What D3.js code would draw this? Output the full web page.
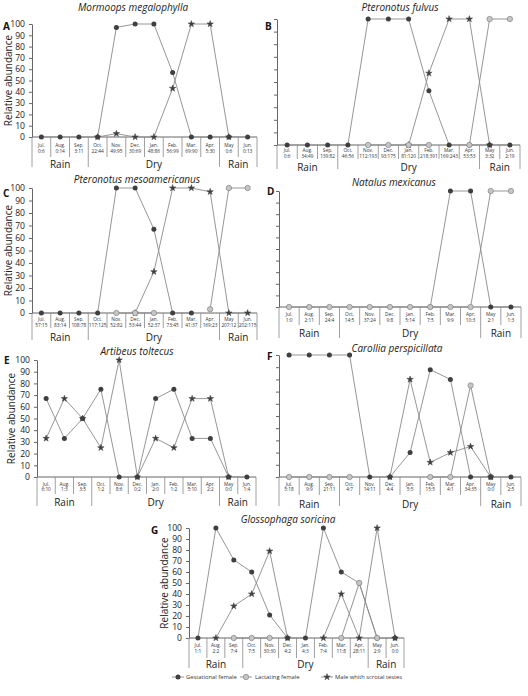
<!DOCTYPE html>
<html><head><meta charset="utf-8">
<script src="https://cdn.jsdelivr.net/npm/d3@7"></script>
<style>body{margin:0;background:#fff}</style>
</head><body><div id="chart"></div>
<script>
// months run jul -> jun, seasons span month indexes
var months=['Jul.','Aug.','Sep.','Oct.','Nov.','Dec.','Jan.','Feb.','Mar.','Apr.','May','Jun.'];
var seasonNames=['Rain','Dry','Rain'];
var seasonFrom=[0,3,10];
var seasonTo=[3,10,12];
var yTicks=[0,10,20,30,40,50,60,70,80,90,100];
var legendNames=['Gestational female','Lactating female','Male whith scrotal testes'];

// A
var titleA='Mormoops megalophylla';
var countsA=['0:6','0:14','3:11','22:44','49:95','30:69','48:86','56:99','69:90','5:30','0:6','0:13'];
var gestA=[0,0,0,0,97,100,100,57,0,0,0,0];
var lactA=[null,null,null,null,null,null,null,null,null,null,null,null];
var maleA=[null,null,null,0,3,0,0,43,100,100,0,null];
// B
var titleB='Pteronotus fulvus';
var countsB=['0:6','34:49','139:82','46:56','112:193','93:175','81:120','218:391','169:243','53:53','3:32','2:19'];
var gestB=[0,0,0,0,100,100,100,43,0,0,0,0];
var lactB=[null,null,null,null,0,0,0,0,null,0,100,100];
var maleB=[null,null,null,null,null,null,0,57,100,100,0,null];
// C
var titleC='Pteronotus mesoamericanus';
var countsC=['57:15','83:14','108:78','117:125','52:82','53:44','52:37','73:45','41:37','169:23','207:12','202:115'];
var gestC=[0,0,0,0,100,100,67,0,0,null,null,null];
var lactC=[null,null,null,null,0,0,0,null,null,3,100,100];
var maleC=[null,null,null,null,null,0,33,100,100,97,0,0];
// D
var titleD='Natalus mexicanus';
var countsD=['1:0','2:11','24:4','14:5','37:24','9:8','5:14','7:5','9:9','10:3','2:1','1:3'];
var gestD=[null,null,null,null,null,null,null,0,100,100,0,0];
var lactD=[0,0,0,0,0,0,0,0,0,0,100,100];
var maleD=[null,null,null,null,null,null,null,null,null,null,null,null];
// E
var titleE='Artibeus toltecus';
var countsE=['6:10','1:3','3:5','1:2','8:6','0:2','2:0','1:2','5:10','2:2','0:0','1:4'];
var gestE=[67,33,50,75,0,0,67,75,33,33,0,0];
var lactE=[null,null,null,null,null,null,null,null,null,null,null,null];
var maleE=[33,67,50,25,100,0,33,25,67,67,0,null];
// F
var titleF='Carollia perspicillata';
var countsF=['5:18','9:9','21:11','4:7','14:11','4:4','5:5','15:5','4:1','34:35','0:0','2:5'];
var gestF=[100,100,100,100,0,0,20,88,80,0,0,0];
var lactF=[0,0,0,0,null,null,null,0,0,75,0,null];
var maleF=[null,null,null,null,null,0,80,12,20,25,0,null];
// G
var titleG='Glossophaga soricina';
var countsG=['1:1','2:2','7:4','7:5','30:30','4:2','4:3','7:4','11:8','28:11','2:9','0:0'];
var gestG=[0,100,71,60,21,0,0,100,60,50,0,0];
var lactG=[null,null,0,0,0,null,null,null,0,50,0,null];
var maleG=[null,0,29,40,79,0,null,0,40,0,100,0];

// panel boxes, picked off the page by eye
// b = [month y, count y, cell line, season line, season label y] below the axis
var panels=[
 {l:'A',title:titleA,counts:countsA,s:[gestA,lactA,maleA],x0:32,x1:257,yt:24,yb:137,lab:true,ylx:8,tx:133,ty:11,lx:3,ly:30,mo:[2,0,1],b:[9.5,16,20,30,31]},
 {l:'B',title:titleB,counts:countsB,s:[gestB,lactB,maleB],x0:277,x1:520,yt:19,yb:145,lab:false,tx:400,ty:11,lx:265,ly:30,mo:[2,0,1],b:[7,12.5,14,24,25.5]},
 {l:'C',title:titleC,counts:countsC,s:[gestC,lactC,maleC],x0:32,x1:257,yt:188,yb:313,lab:true,ylx:8,tx:137,ty:183,lx:3,ly:197,mo:[2,0,1],b:[8,13.5,15,27,27.5]},
 {l:'D',title:titleD,counts:countsD,s:[gestD,lactD,maleD],x0:279,x1:521,yt:191,yb:307,lab:false,tx:394,ty:186,lx:267,ly:195,mo:[2,0,1],b:[9,15,18,31,30]},
 {l:'E',title:titleE,counts:countsE,s:[gestE,lactE,maleE],x0:37,x1:256,yt:360,yb:477,lab:true,ylx:11,tx:137,ty:355,lx:4,ly:364,mo:[2,0,1],b:[8.5,14,17,29,29]},
 {l:'F',title:titleF,counts:countsF,s:[gestF,lactF,maleF],x0:279,x1:521,yt:355,yb:477,lab:false,tx:397,ty:352,lx:267,ly:360,mo:[1,2,0],b:[8.5,14,18,29,31]},
 {l:'G',title:titleG,counts:countsG,s:[gestG,lactG,maleG],x0:189,x1:404,yt:528,yb:638,lab:true,ylx:164,tx:288,ty:523,lx:151,ly:534,mo:[2,0,1],b:[9,15,20,30,30]}
];

var ff='"Open Sans", "Noto Sans", sans-serif';
var lineCol='#8a8a8a', dark='#3f3f3f', light='#c6c6c6';

var svg=d3.select('#chart').append('svg')
    .attr('width',528).attr('height',696)
    .style('background','#fff');

function marker(g,k,x,y) {
    if(k==0) g.append('circle').attr('cx',x).attr('cy',y).attr('r',2.5).attr('fill',dark);
    else if(k==1) g.append('circle').attr('cx',x).attr('cy',y).attr('r',2.7)
        .attr('fill',light).attr('stroke','#777').attr('stroke-width',0.6);
    else g.append('path').attr('transform','translate('+x+','+y+')')
        .attr('d',d3.symbol(d3.symbolStar,13)()).attr('fill',dark)
        .attr('stroke',dark).attr('stroke-width',0.5);
}

panels.forEach(function(p){
    var g=svg.append('g');
    var x=d3.scaleBand().domain(months).range([p.x0,p.x1]);
    var y=d3.scaleLinear().domain([0,100]).range([p.yb,p.yt]);
    var cx=function(i){return x(months[i])+x.bandwidth()/2;};

    // y axis
    var ax=g.append('g').attr('transform','translate('+p.x0+',0)')
        .call(d3.axisLeft(y).tickValues(yTicks).tickSize(3).tickSizeOuter(0)
            .tickFormat(p.lab?d3.format('d'):''));
    ax.select('.domain').attr('stroke','#666');
    ax.selectAll('line').attr('stroke','#666');
    ax.selectAll('text').attr('font-family',ff).attr('font-size','8.6px').attr('fill','#222').attr('dx','-1');
    if(p.lab) g.append('text')
        .attr('transform','translate('+p.ylx+','+((p.yt+p.yb)/2)+') rotate(-90)')
        .attr('text-anchor','middle').attr('dy','0.35em')
        .attr('font-family',ff).attr('font-size','10px').attr('fill','#222')
        .text('Relative abundance');

    // month boxes under the axis
    g.append('line').attr('x1',p.x0).attr('x2',p.x1).attr('y1',p.yb).attr('y2',p.yb).attr('stroke','#666');
    d3.range(13).forEach(function(i){
        var bx=p.x0+i*x.bandwidth();
        var season=seasonFrom.indexOf(i)>=0||i==12;
        g.append('line').attr('x1',bx).attr('x2',bx).attr('y1',p.yb)
            .attr('y2',p.yb+(season?p.b[3]:p.b[2])).attr('stroke','#888').attr('stroke-width',0.8);
    });
    months.forEach(function(m,i){
        g.append('text').attr('x',cx(i)).attr('y',p.yb+p.b[0]).attr('text-anchor','middle')
            .attr('font-family',ff).attr('font-size','4.8px').attr('fill','#333').text(m);
        g.append('text').attr('x',cx(i)).attr('y',p.yb+p.b[1]).attr('text-anchor','middle')
            .attr('font-family',ff).attr('font-size','4.8px').attr('fill','#333').text(p.counts[i]);
    });
    seasonNames.forEach(function(s,i){
        var sx=(p.x0+seasonFrom[i]*x.bandwidth()+p.x0+seasonTo[i]*x.bandwidth())/2;
        g.append('text').attr('x',sx).attr('y',p.yb+p.b[4]).attr('text-anchor','middle')
            .attr('font-family',ff).attr('font-size','10px').attr('fill','#222').text(s);
    });

    // series lines then markers
    var line=d3.line().defined(function(d){return d!=null;})
        .x(function(d,i){return cx(i);}).y(function(d){return y(d);});
    p.s.forEach(function(vals){
        g.append('path').attr('d',line(vals)).attr('fill','none')
            .attr('stroke',lineCol).attr('stroke-width',0.9);
    });
    p.mo.forEach(function(k){
        p.s[k].forEach(function(v,i){ if(v!=null) marker(g,k,cx(i),y(v)); });
    });

    g.append('text').attr('x',p.tx).attr('y',p.ty).attr('text-anchor','middle')
        .attr('font-family',ff).attr('font-style','italic').attr('font-size','10px')
        .attr('fill','#222').text(p.title);
    g.append('text').attr('x',p.lx).attr('y',p.ly)
        .attr('font-family',ff).attr('font-weight','bold').attr('font-size','10px')
        .attr('fill','#111').text(p.l);
});

// legend
var lg=svg.append('g');
var legX=[172,240,321], legTX=[186,255,335];
legendNames.forEach(function(n,k){
    lg.append('line').attr('x1',legX[k]).attr('x2',legX[k]+12).attr('y1',677).attr('y2',677)
        .attr('stroke',lineCol).attr('stroke-width',0.9);
    marker(lg,k,legX[k]+6,677);
    lg.append('text').attr('x',legTX[k]).attr('y',679)
        .attr('font-family',ff).attr('font-size','5.8px').attr('fill','#333').text(n);
});
</script>
</body></html>
